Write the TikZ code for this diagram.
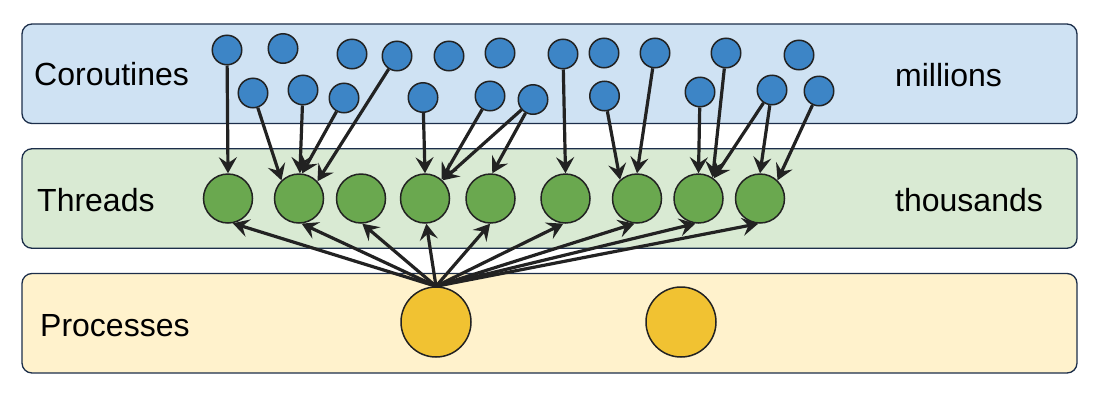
\documentclass[tikz,border=0pt]{standalone}
\usepackage{fontspec}
\setmainfont{Liberation Sans}
\usetikzlibrary{arrows.meta}
\definecolor{bandblue}{HTML}{CFE2F3}
\definecolor{bandgreen}{HTML}{D9EAD3}
\definecolor{bandyellow}{HTML}{FFF2CC}
\definecolor{cblue}{HTML}{3D85C6}
\definecolor{cgreen}{HTML}{6AA84F}
\definecolor{cyellow}{HTML}{F1C232}
\definecolor{bandedge}{HTML}{1C2E4A}
\definecolor{ink}{HTML}{222222}
\begin{document}
\begin{tikzpicture}[x=1pt,y=-1pt,
  band/.style={draw=bandedge,line width=1.3pt,rounded corners=10pt,minimum width=1055pt,minimum height=99.5pt,inner sep=0pt},
  corobox/.style={circle,draw=ink,fill=cblue,line width=1.5pt,inner sep=0pt,minimum size=29.5pt},
  thrbox/.style={circle,draw=ink,fill=cgreen,line width=1.5pt,inner sep=0pt,minimum size=49pt},
  procbox/.style={circle,draw=ink,fill=cyellow,line width=1.5pt,inner sep=0pt,minimum size=70pt},
  lab/.style={anchor=base west,inner sep=0pt,font=\fontsize{32}{38}\selectfont},
  arr/.style={draw=ink,line width=3.2pt,-{Stealth[length=16pt,width=18pt,inset=6pt]}}
]
\useasboundingbox (0,0) rectangle (1100,402);
% bands
\node[band,fill=bandblue] (bc) at (549.5,73.75) {};
\node[band,fill=bandgreen] (bt) at (549.5,198.5) {};
\node[band,fill=bandyellow] (bp) at (549.5,323.25) {};
% labels
\node[lab] (lc) at (34,85.7) {Coroutines};
\node[lab] (lm) at (895,86) {millions};
\node[lab] (lt) at (37,211) {Threads};
\node[lab] (lth) at (895,211) {thousands};
\node[lab] (lp) at (40,336) {Processes};
% coroutines
\node[corobox] (c1) at (227,50) {};
\node[corobox] (c2) at (283,48.5) {};
\node[corobox] (c3) at (352,54) {};
\node[corobox] (c4) at (397,56) {};
\node[corobox] (c5) at (449,56) {};
\node[corobox] (c6) at (500,53) {};
\node[corobox] (c7) at (563,54) {};
\node[corobox] (c8) at (604,53) {};
\node[corobox] (c9) at (655,53) {};
\node[corobox] (c10) at (726,53) {};
\node[corobox] (c11) at (799,55) {};
\node[corobox] (d1) at (253,93) {};
\node[corobox] (d2) at (303,90) {};
\node[corobox] (d3) at (344,98) {};
\node[corobox] (d4) at (423,97.5) {};
\node[corobox] (d5) at (490,96) {};
\node[corobox] (d6) at (533,99.5) {};
\node[corobox] (d7) at (604.5,96) {};
\node[corobox] (d8) at (700,92) {};
\node[corobox] (d9) at (772,90) {};
\node[corobox] (d10) at (819,91) {};
% threads
\node[thrbox] (t1) at (228,198.5) {};
\node[thrbox] (t2) at (299,198.5) {};
\node[thrbox] (t3) at (361,198.5) {};
\node[thrbox] (t4) at (425,198.5) {};
\node[thrbox] (t5) at (490.5,198.5) {};
\node[thrbox] (t6) at (565.5,198.5) {};
\node[thrbox] (t7) at (637,198.5) {};
\node[thrbox] (t8) at (698.5,198.5) {};
\node[thrbox] (t9) at (760,198.5) {};
% processes
\node[procbox] (p1) at (436,322) {};
\node[procbox] (p2) at (681,322) {};
% coroutine -> thread arrows
\draw[arr] (c1) -- (t1.90);
\draw[arr] (d1) -- (t2.134);
\draw[arr] (d2) -- (t2.88);
\draw[arr] (d3) -- (t2.83);
\draw[arr] (c4) -- (t2.43);
\draw[arr] (d4) -- (t4.90);
\draw[arr] (d5) -- (t4.49);
\draw[arr] (d6) -- (t4.46);
\draw[arr] (d6) -- (t5.86);
\draw[arr] (c7) -- (t6.90);
\draw[arr] (d7) -- (t7.132);
\draw[arr] (c9) -- (t7.90);
\draw[arr] (d8) -- (t8.90);
\draw[arr] (c10) -- (t8.56);
\draw[arr] (d9) -- (t8.53);
\draw[arr] (d9) -- (t9.90);
\draw[arr] (d10) -- (t9.46);
% process -> thread arrows
\draw[arr] (p1.north) -- (t1.-79);
\draw[arr] (p1.north) -- (t2.-84);
\draw[arr] (p1.north) -- (t3.-87);
\draw[arr] (p1.north) -- (t4.-87);
\draw[arr] (p1.north) -- (t5.-91);
\draw[arr] (p1.north) -- (t6.-95);
\draw[arr] (p1.north) -- (t7.-96);
\draw[arr] (p1.north) -- (t8.-97);
\draw[arr] (p1.north) -- (t9.-94);
\end{tikzpicture}
\end{document}
